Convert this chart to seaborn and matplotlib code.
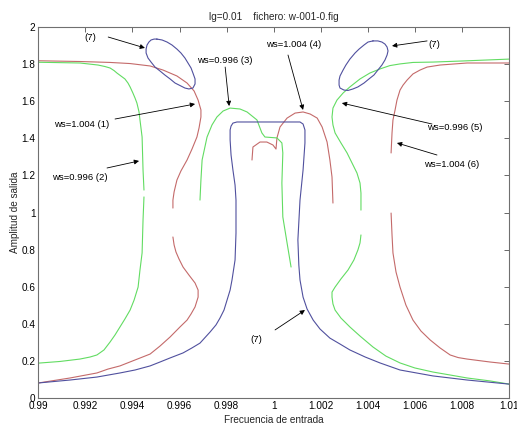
import matplotlib
matplotlib.use("Agg")
import matplotlib.pyplot as plt
import pandas as pd
import seaborn as sns

# ---- traced curves (x = input frequency, y = output amplitude) ----
# ws=1.004 (1): left red branch, broken near y=1
red1_a_x = [0.99000, 0.99177, 0.99305, 0.99390, 0.99475, 0.99530, 0.99589, 0.99632, 0.99662, 0.99679,
            0.99691, 0.99691, 0.99683, 0.99674, 0.99653, 0.99632, 0.99606, 0.99589, 0.99577, 0.99572, 0.99572]
red1_a_y = [1.818, 1.814, 1.809, 1.803, 1.790, 1.768, 1.736, 1.698, 1.655, 1.606,
            1.553, 1.515, 1.456, 1.407, 1.342, 1.283, 1.224, 1.175, 1.111, 1.067, 1.024]
red1_b_x = [0.99572, 0.99577, 0.99585, 0.99598, 0.99615, 0.99640, 0.99666, 0.99679, 0.99679, 0.99666,
            0.99649, 0.99632, 0.99602, 0.99560, 0.99517, 0.99475, 0.99411, 0.99347, 0.99296, 0.99249,
            0.99135, 0.99000]
red1_b_y = [0.868, 0.825, 0.787, 0.749, 0.706, 0.663, 0.620, 0.582, 0.544, 0.491,
            0.453, 0.420, 0.383, 0.329, 0.280, 0.237, 0.205, 0.173, 0.156, 0.135,
            0.108, 0.081]

# ws=0.996 (2): left green branch
green2_a_x = [0.99000, 0.99177, 0.99254, 0.99283, 0.99305, 0.99322, 0.99334, 0.99351, 0.99368, 0.99381,
              0.99390, 0.99402, 0.99411, 0.99419, 0.99428, 0.99432, 0.99441, 0.99445, 0.99449]
green2_a_y = [1.810, 1.806, 1.795, 1.787, 1.779, 1.765, 1.752, 1.736, 1.720, 1.698,
              1.677, 1.644, 1.617, 1.590, 1.542, 1.499, 1.407, 1.229, 1.121]
green2_b_x = [0.99449, 0.99445, 0.99441, 0.99432, 0.99424, 0.99407, 0.99390, 0.99368, 0.99347, 0.99326,
              0.99305, 0.99279, 0.99249, 0.99220, 0.99177, 0.99092, 0.99000]
green2_b_y = [1.084, 0.960, 0.782, 0.690, 0.598, 0.528, 0.474, 0.426, 0.383, 0.340,
              0.302, 0.259, 0.232, 0.221, 0.210, 0.197, 0.188]

# ws=0.996 (3): central green branch
green3_x = [0.99687, 0.99691, 0.99696, 0.99717, 0.99738, 0.99759, 0.99785, 0.99815, 0.99857, 0.99887,
            0.99929, 0.99950, 0.99963, 1.00014, 1.00035, 1.00039, 1.00035, 1.00039, 1.00057, 1.00074]
green3_y = [1.067, 1.175, 1.283, 1.407, 1.472, 1.515, 1.547, 1.563, 1.558, 1.542,
            1.499, 1.429, 1.407, 1.402, 1.375, 1.321, 1.159, 0.976, 0.836, 0.706]

# ws=1.004 (4): central red branch
red4_x = [0.99908, 0.99912, 0.99942, 0.99971, 0.99997, 1.00010, 1.00014, 1.00027, 1.00057, 1.00091,
          1.00125, 1.00155, 1.00185, 1.00206, 1.00227, 1.00239, 1.00248, 1.00252]
red4_y = [1.283, 1.353, 1.380, 1.380, 1.364, 1.342, 1.402, 1.461, 1.509, 1.536,
          1.542, 1.531, 1.509, 1.461, 1.380, 1.283, 1.191, 1.051]

# ws=0.996 (5): right green branch
green5_a_x = [1.01000, 1.00805, 1.00677, 1.00592, 1.00537, 1.00494, 1.00452, 1.00409, 1.00367, 1.00324,
              1.00295, 1.00269, 1.00252, 1.00248, 1.00252, 1.00261, 1.00286, 1.00312, 1.00333, 1.00354,
              1.00367, 1.00371, 1.00371]
green5_a_y = [1.827, 1.817, 1.811, 1.809, 1.801, 1.792, 1.774, 1.752, 1.720, 1.677,
              1.644, 1.606, 1.563, 1.515, 1.472, 1.429, 1.375, 1.321, 1.267, 1.213,
              1.159, 1.105, 1.013]
green5_b_x = [1.00371, 1.00367, 1.00358, 1.00341, 1.00316, 1.00286, 1.00261, 1.00248, 1.00248, 1.00252,
              1.00261, 1.00286, 1.00324, 1.00367, 1.00422, 1.00477, 1.00537, 1.00600, 1.00677, 1.00750,
              1.00822, 1.00920, 1.01000]
green5_b_y = [0.879, 0.836, 0.798, 0.744, 0.690, 0.642, 0.598, 0.571, 0.544, 0.507,
              0.474, 0.431, 0.383, 0.334, 0.275, 0.226, 0.189, 0.162, 0.140, 0.124,
              0.108, 0.092, 0.075]

# ws=1.004 (6): right red branch
red6_a_x = [1.01000, 1.00822, 1.00707, 1.00652, 1.00622, 1.00592, 1.00567, 1.00550, 1.00537, 1.00524,
            1.00516, 1.00507, 1.00503, 1.00499]
red6_a_y = [1.806, 1.806, 1.795, 1.784, 1.768, 1.747, 1.714, 1.687, 1.660, 1.606,
            1.553, 1.499, 1.429, 1.321]
red6_b_x = [1.00499, 1.00503, 1.00507, 1.00520, 1.00537, 1.00562, 1.00592, 1.00626, 1.00665, 1.00707,
            1.00750, 1.00784, 1.00822, 1.00920, 1.01000]
red6_b_y = [0.997, 0.879, 0.782, 0.679, 0.598, 0.501, 0.420, 0.361, 0.313, 0.270,
            0.232, 0.218, 0.210, 0.194, 0.183]

# (7): blue curve and the two closed loops
blue7_x = [0.99000, 0.99135, 0.99249, 0.99347, 0.99411, 0.99475, 0.99517, 0.99560, 0.99615, 0.99653,
           0.99687, 0.99730, 0.99755, 0.99772, 0.99789, 0.99802, 0.99815, 0.99823, 0.99836, 0.99840,
           0.99840, 0.99836, 0.99827, 0.99819, 0.99815, 0.99815, 0.99819, 0.99827, 0.99844, 0.99870,
           1.00112, 1.00125, 1.00133, 1.00133, 1.00125, 1.00112, 1.00103, 1.00107, 1.00112, 1.00125,
           1.00142, 1.00168, 1.00197, 1.00239, 1.00282, 1.00324, 1.00389, 1.00452, 1.00537, 1.00677,
           1.00822, 1.01000]
blue7_y = [0.081, 0.097, 0.113, 0.135, 0.151, 0.173, 0.194, 0.216, 0.243, 0.270,
           0.296, 0.356, 0.394, 0.431, 0.474, 0.528, 0.582, 0.636, 0.744, 0.889,
           1.067, 1.148, 1.229, 1.310, 1.391, 1.445, 1.466, 1.482, 1.488, 1.488,
           1.488, 1.477, 1.445, 1.375, 1.229, 1.067, 0.852, 0.717, 0.636, 0.544,
           0.480, 0.420, 0.372, 0.323, 0.291, 0.259, 0.221, 0.189, 0.151, 0.119,
           0.097, 0.075]
loop_left_x = [0.99504, 0.99526, 0.99547, 0.99568, 0.99589, 0.99606, 0.99623, 0.99636, 0.99649, 0.99657,
               0.99666, 0.99666, 0.99657, 0.99640, 0.99623, 0.99606, 0.99581, 0.99560, 0.99538, 0.99517,
               0.99496, 0.99479, 0.99466, 0.99458, 0.99458, 0.99462, 0.99470, 0.99479, 0.99492, 0.99504]
loop_left_y = [1.935, 1.930, 1.919, 1.903, 1.881, 1.860, 1.833, 1.806, 1.779, 1.752,
               1.720, 1.693, 1.671, 1.666, 1.671, 1.682, 1.698, 1.720, 1.741, 1.763,
               1.784, 1.811, 1.833, 1.860, 1.881, 1.903, 1.919, 1.930, 1.935, 1.935]
loop_right_x = [1.00422, 1.00443, 1.00460, 1.00473, 1.00482, 1.00486, 1.00482, 1.00473, 1.00460, 1.00443,
                1.00426, 1.00405, 1.00384, 1.00358, 1.00337, 1.00316, 1.00299, 1.00282, 1.00278, 1.00278,
                1.00282, 1.00295, 1.00307, 1.00324, 1.00346, 1.00363, 1.00384, 1.00401, 1.00422]
loop_right_y = [1.925, 1.925, 1.919, 1.908, 1.892, 1.871, 1.849, 1.822, 1.795, 1.768,
                1.741, 1.720, 1.698, 1.677, 1.666, 1.658, 1.660, 1.671, 1.687, 1.714,
                1.736, 1.768, 1.795, 1.827, 1.860, 1.881, 1.903, 1.919, 1.925]

# ---- annotations: label, text position, arrow tail, arrow head ----
ann_labels = ["(7)", "ws=1.004 (1)", "ws=0.996 (2)", "ws=0.996 (3)", "ws=1.004 (4)",
              "(7)", "ws=0.996 (5)", "ws=1.004 (6)", "(7)"]
ann_text = [(0.99220, 1.941), (0.99182, 1.477), (0.99177, 1.191), (0.99794, 1.817), (1.00087, 1.908),
            (1.00682, 1.908), (1.00770, 1.456), (1.00757, 1.261), (0.99925, 0.313)]
ann_tail = [(0.99297, 1.946), (0.99326, 1.504), (0.99292, 1.240), (0.99794, 1.784), (1.00061, 1.849),
            (1.00652, 1.925), (1.00673, 1.477), (1.00694, 1.310), (1.00006, 0.367)]
ann_head = [(0.99453, 1.887), (0.99666, 1.585), (0.99428, 1.278), (0.99811, 1.574), (1.00125, 1.553),
            (1.00503, 1.898), (1.00290, 1.590), (1.00524, 1.375), (1.00133, 0.474)]

x_ticks = [0.99, 0.992, 0.994, 0.996, 0.998, 1.0, 1.002, 1.004, 1.006, 1.008, 1.01]
x_tick_labels = ["0.99", "0.992", "0.994", "0.996", "0.998", "1", "1.002", "1.004", "1.006", "1.008", "1.01"]
y_ticks = [0, 0.2, 0.4, 0.6, 0.8, 1.0, 1.2, 1.4, 1.6, 1.8, 2.0]
y_tick_labels = ["0", "0.2", "0.4", "0.6", "0.8", "1", "1.2", "1.4", "1.6", "1.8", "2"]

segments = [
    ("red", red1_a_x, red1_a_y), ("red", red1_b_x, red1_b_y),
    ("green", green2_a_x, green2_a_y), ("green", green2_b_x, green2_b_y),
    ("green", green3_x, green3_y),
    ("red", red4_x, red4_y),
    ("green", green5_a_x, green5_a_y), ("green", green5_b_x, green5_b_y),
    ("red", red6_a_x, red6_a_y), ("red", red6_b_x, red6_b_y),
    ("blue", blue7_x, blue7_y), ("blue", loop_left_x, loop_left_y), ("blue", loop_right_x, loop_right_y),
]
rows = []
for i, (c, xs, ys) in enumerate(segments):
    for xv, yv in zip(xs, ys):
        rows.append({"x": xv, "y": yv, "seg": i, "color": c})
df = pd.DataFrame(rows)

sns.set_theme(style="white")
plt.rcParams["font.family"] = ["Liberation Sans", "DejaVu Sans"]

fig = plt.figure(figsize=(5.17, 4.24), dpi=100)
ax = fig.add_axes([0.0741, 0.0613, 0.9104, 0.875])

palette = {"red": "#c46a6a", "green": "#62dc62", "blue": "#50509e"}
sns.lineplot(data=df, x="x", y="y", hue="color", units="seg", estimator=None, sort=False,
             palette=palette, linewidth=0.8, legend=False, ax=ax)

for lab, tp, tl, hd in zip(ann_labels, ann_text, ann_tail, ann_head):
    ax.text(tp[0], tp[1], lab, fontsize=6.8, ha="center", va="center", color="black")
    ax.annotate("", xy=hd, xytext=tl,
                arrowprops=dict(arrowstyle="-|>", color="black", lw=0.6, mutation_scale=7,
                                shrinkA=0, shrinkB=0))

ax.set_xlim(0.99, 1.01)
ax.set_ylim(0, 2)
ax.set_xticks(x_ticks)
ax.set_xticklabels(x_tick_labels)
ax.set_yticks(y_ticks)
ax.set_yticklabels(y_tick_labels)
ax.tick_params(direction="in", length=3.5, width=0.6, colors="#505050", labelcolor="black",
               labelsize=7.2, top=True, right=True, pad=2)
for s in ax.spines.values():
    s.set_color("#707070")
    s.set_linewidth(0.8)

ax.set_xlabel("Frecuencia de entrada", fontsize=7.2, labelpad=3)
ax.set_ylabel("Amplitud de salida", fontsize=7.2, labelpad=1)
ax.set_title("lg=0.01    fichero: w-001-0.fig", fontsize=7.2, pad=5)

fig.savefig("out.png", dpi=100)
